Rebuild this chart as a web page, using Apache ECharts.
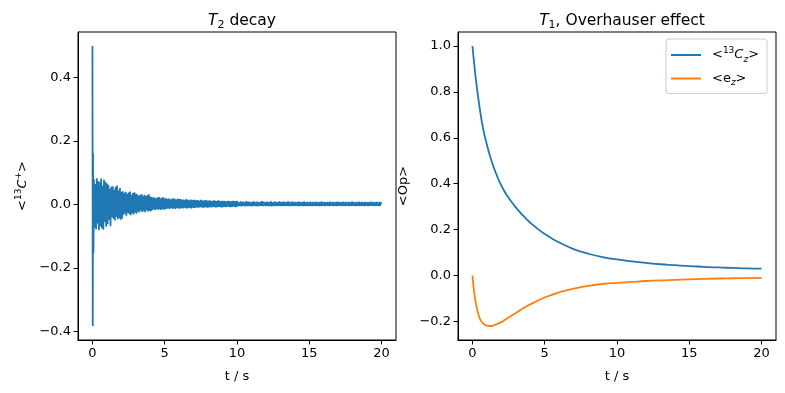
<!DOCTYPE html>
<html>
<head>
<meta charset="utf-8">
<script src="https://cdn.jsdelivr.net/npm/echarts@6/dist/echarts.min.js"></script>
<style>
html,body{margin:0;padding:0;background:#fff;}
#chart{width:785px;height:393px;}
</style>
</head>
<body>
<div id="chart"></div>
<script>
// ---- Left panel: T2 decay (sampled signal) ----
const spikeTimes = [0, 0.02, 0.04, 0.07];
const spikeValues = [0.5, -0.383, 0.162, -0.152];
// segment A: t = 0.10 .. 10.00, step 0.05
const segAStart = 0.1;
const segAStep = 0.05;
const segAValues = [
  0.080,-0.072,0.065,-0.078,0.083,-0.060,0.074,-0.080,0.070,-0.068,0.082,-0.075,0.060,-0.079,0.078,-0.055,0.072,-0.070,0.066,-0.062,
  0.062,-0.048,0.050,-0.068,0.056,-0.040,0.058,-0.045,0.047,-0.050,0.055,-0.038,0.060,-0.046,0.044,-0.042,0.052,-0.048,0.040,-0.045,
  0.042,-0.032,0.036,-0.028,0.040,-0.035,0.033,-0.026,0.038,-0.030,0.041,-0.034,0.030,-0.027,0.036,-0.031,0.039,-0.025,0.034,-0.029,
  0.032,-0.022,0.028,-0.025,0.030,-0.019,0.033,-0.023,0.026,-0.020,0.031,-0.024,0.027,-0.018,0.029,-0.022,0.032,-0.020,0.025,-0.021,
  0.024,-0.017,0.021,-0.015,0.023,-0.018,0.019,-0.014,0.022,-0.016,0.024,-0.015,0.020,-0.017,0.021,-0.014,0.023,-0.016,0.019,-0.015,
  0.020,-0.013,0.017,-0.012,0.019,-0.014,0.016,-0.011,0.018,-0.013,0.020,-0.012,0.017,-0.014,0.016,-0.011,0.019,-0.012,0.017,-0.013,
  0.017,-0.011,0.015,-0.012,0.016,-0.010,0.014,-0.011,0.017,-0.012,0.015,-0.010,0.013,-0.011,0.016,-0.012,0.014,-0.010,0.015,-0.011,
  0.015,-0.010,0.013,-0.009,0.014,-0.010,0.012,-0.008,0.015,-0.009,0.013,-0.010,0.012,-0.009,0.014,-0.008,0.013,-0.010,0.012,-0.009,
  0.013,-0.008,0.012,-0.009,0.011,-0.007,0.013,-0.008,0.012,-0.009,0.011,-0.008,0.013,-0.007,0.012,-0.008,0.011,-0.009,0.012,-0.008,
  0.012,-0.007,0.011,-0.008,0.010,-0.006,0.012,-0.007,0.011,-0.008,0.010,-0.007,0.012,-0.006,0.011,-0.007,0.010,-0.008,0.011
];
// segment B: t = 10.05 .. 20.00, step 0.05
const segBStart = 10.05;
const segBStep = 0.05;
const segBValues = [
  0.009,-0.005,0.007,-0.004,0.010,-0.006,0.008,-0.004,0.009,-0.005,0.007,-0.006,0.011,-0.004,0.008,-0.005,0.009,-0.004,0.007,-0.006,
  0.008,-0.004,0.010,-0.005,0.007,-0.004,0.009,-0.006,0.008,-0.004,0.007,-0.005,0.009,-0.004,0.011,-0.005,0.008,-0.004,0.007,-0.005,
  0.009,-0.004,0.007,-0.005,0.008,-0.004,0.010,-0.006,0.007,-0.004,0.008,-0.005,0.009,-0.004,0.007,-0.005,0.008,-0.004,0.010,-0.005,
  0.007,-0.004,0.008,-0.005,0.009,-0.004,0.007,-0.005,0.008,-0.004,0.010,-0.005,0.007,-0.004,0.008,-0.005,0.009,-0.004,0.007,-0.005,
  0.008,-0.004,0.007,-0.005,0.009,-0.004,0.008,-0.005,0.007,-0.004,0.008,-0.005,0.010,-0.004,0.007,-0.005,0.008,-0.004,0.007,-0.005,
  0.009,-0.004,0.007,-0.005,0.008,-0.004,0.007,-0.004,0.009,-0.005,0.007,-0.004,0.008,-0.005,0.007,-0.004,0.010,-0.005,0.007,-0.004,
  0.008,-0.005,0.007,-0.004,0.008,-0.004,0.007,-0.005,0.009,-0.004,0.007,-0.004,0.008,-0.005,0.007,-0.004,0.008,-0.005,0.009,-0.004,
  0.007,-0.004,0.008,-0.005,0.007,-0.004,0.009,-0.004,0.007,-0.005,0.008,-0.004,0.007,-0.004,0.008,-0.005,0.007,-0.004,0.009,-0.004,
  0.008,-0.004,0.007,-0.005,0.008,-0.004,0.007,-0.004,0.009,-0.005,0.007,-0.004,0.008,-0.004,0.007,-0.005,0.008,-0.004,0.007,-0.004,
  0.008,-0.005,0.007,-0.004,0.009,-0.004,0.007,-0.004,0.008,-0.005,0.007,-0.004,0.008,-0.004,0.007,-0.005,0.008,-0.004,0.007,0.002
];

// ---- Right panel: T1, Overhauser effect ----
const t1Times = [0,0.1,0.25,0.5,0.75,1,1.25,1.5,1.75,2,2.25,2.5,2.75,3,3.25,3.5,3.75,4,4.5,5,5.5,6,7,8,9,10,11,12,13,14,15,16,17,18,19,20];
const c13z = [1.0,0.935,0.848,0.73,0.636,0.57,0.513,0.466,0.426,0.392,0.363,0.339,0.317,0.297,0.278,0.261,0.245,0.23,0.204,0.181,0.161,0.144,0.115,0.095,0.08,0.07,0.062,0.055,0.049,0.045,0.041,0.038,0.035,0.033,0.031,0.030];
const ez = [0,-0.062,-0.125,-0.186,-0.21,-0.218,-0.22,-0.216,-0.21,-0.203,-0.193,-0.183,-0.173,-0.163,-0.153,-0.143,-0.134,-0.126,-0.11,-0.096,-0.084,-0.073,-0.057,-0.045,-0.037,-0.032,-0.028,-0.024,-0.021,-0.019,-0.017,-0.015,-0.013,-0.012,-0.011,-0.010];

const xTicks = [0, 5, 10, 15, 20];
const yTicksLeft = [-0.4, -0.2, 0.0, 0.2, 0.4];
const yTicksRight = [-0.2, 0.0, 0.2, 0.4, 0.6, 0.8, 1.0];

const FONT = 'DejaVu Sans';
const C1 = '#1f77b4', C2 = '#ff7f0e';

const leftData = spikeTimes.map((t, i) => [t, spikeValues[i]])
  .concat(segAValues.map((v, i) => [+(segAStart + i * segAStep).toFixed(3), v]))
  .concat(segBValues.map((v, i) => [+(segBStart + i * segBStep).toFixed(3), v]));
const blueData = t1Times.map((t, i) => [t, c13z[i]]);
const orangeData = t1Times.map((t, i) => [t, ez[i]]);

const fmt = v => (Math.abs(v) < 1e-9 ? '0.0' : v.toFixed(1).replace('-', '\u2212'));
const fmtX = v => String(Math.round(v));

const richBase = {
  t: {fontFamily: FONT, fontSize: 13, color: '#000', lineHeight: 18},
  it: {fontFamily: FONT, fontSize: 13, fontStyle: 'italic', color: '#000', lineHeight: 18},
  sup: {fontFamily: FONT, fontSize: 9, color: '#000', lineHeight: 16, verticalAlign: 'top'},
  sub: {fontFamily: FONT, fontSize: 9, color: '#000', lineHeight: 12, verticalAlign: 'bottom'},
  subit: {fontFamily: FONT, fontSize: 9, fontStyle: 'italic', color: '#000', lineHeight: 12, verticalAlign: 'bottom'}
};
const richTitle = {
  t: {fontFamily: FONT, fontSize: 15.5, color: '#000', lineHeight: 20},
  it: {fontFamily: FONT, fontSize: 15.5, fontStyle: 'italic', color: '#000', lineHeight: 20},
  sub: {fontFamily: FONT, fontSize: 11, color: '#000', lineHeight: 13, verticalAlign: 'bottom'}
};

function xAxis(gi) {
  return {
    type: 'value', gridIndex: gi, min: -1, max: 21,
    name: 't / s', nameLocation: 'middle', nameGap: 30,
    nameTextStyle: {fontFamily: FONT, fontSize: 13, color: '#000'},
    axisLine: {show: true, onZero: false, lineStyle: {color: '#000', width: 1}},
    axisTick: {show: true, length: 4.5, lineStyle: {color: '#000'}, customValues: xTicks},
    axisLabel: {fontFamily: FONT, fontSize: 13, color: '#000', margin: 7, customValues: xTicks, formatter: fmtX},
    splitLine: {show: false}
  };
}
function yAxis(gi, min, max, ticks, name, nameGap) {
  return {
    type: 'value', gridIndex: gi, min: min, max: max,
    name: name, nameLocation: 'middle', nameGap: nameGap, nameRotate: 90,
    nameTextStyle: {fontFamily: FONT, fontSize: 13, color: '#000', rich: richBase},
    axisLine: {show: true, onZero: false, lineStyle: {color: '#000', width: 1}},
    axisTick: {show: true, length: 4.5, lineStyle: {color: '#000'}, customValues: ticks},
    axisLabel: {fontFamily: FONT, fontSize: 13, color: '#000', margin: 7, customValues: ticks, formatter: fmt},
    splitLine: {show: false}
  };
}

const chart = echarts.init(document.getElementById('chart'), null, {renderer: 'canvas'});
chart.setOption({
  animation: false,
  backgroundColor: '#fff',
  title: [
    {text: '{it|T}{sub|2}{t| decay}', left: 237, top: 6, textAlign: 'center',
     textStyle: {rich: richTitle, fontFamily: FONT, fontSize: 15.5, fontWeight: 'normal', color: '#000'}},
    {text: '{it|T}{sub|1}{t|, Overhauser effect}', left: 617, top: 6, textAlign: 'center',
     textStyle: {rich: richTitle, fontFamily: FONT, fontSize: 15.5, fontWeight: 'normal', color: '#000'}}
  ],
  grid: [
    {left: 78, top: 32, width: 318, height: 308, show: true, borderColor: '#000', borderWidth: 1, backgroundColor: 'transparent'},
    {left: 458, top: 32, width: 318, height: 308, show: true, borderColor: '#000', borderWidth: 1, backgroundColor: 'transparent'}
  ],
  xAxis: [xAxis(0), xAxis(1)],
  yAxis: [
    yAxis(0, -0.427, 0.544, yTicksLeft, '{t|<}{sup|13}{it|C}{sup|+}{t|>}', 46),
    yAxis(1, -0.281, 1.061, yTicksRight, '<Op>', 48)
  ],
  legend: {
    show: true, orient: 'vertical', left: 666, top: 39,
    padding: [7, 8, 6, 5], itemGap: 8, itemWidth: 30, itemHeight: 2,
    icon: 'rect',
    borderColor: '#cccccc', borderWidth: 1, borderRadius: 3, backgroundColor: 'rgba(255,255,255,0.8)',
    data: ['c13z', 'ez'],
    formatter: n => n === 'c13z' ? '{t|<}{sup|13}{it|C}{subit|z}{t|>}' : '{t|<e}{subit|z}{t|>}',
    textStyle: {fontFamily: FONT, fontSize: 13, color: '#000', padding: [0, 0, 0, 6], rich: richBase}
  },
  series: [
    {type: 'line', name: 't2', xAxisIndex: 0, yAxisIndex: 0, data: leftData, showSymbol: false, symbol: 'none',
     lineStyle: {color: C1, width: 1.8}, itemStyle: {color: C1}},
    {type: 'line', name: 'c13z', xAxisIndex: 1, yAxisIndex: 1, data: blueData, showSymbol: false, symbol: 'none',
     smooth: 0.5,
     lineStyle: {color: C1, width: 1.8}, itemStyle: {color: C1}},
    {type: 'line', name: 'ez', xAxisIndex: 1, yAxisIndex: 1, data: orangeData, showSymbol: false, symbol: 'none',
     smooth: 0.5,
     lineStyle: {color: C2, width: 1.8}, itemStyle: {color: C2}}
  ]
});
</script>
</body>
</html>
